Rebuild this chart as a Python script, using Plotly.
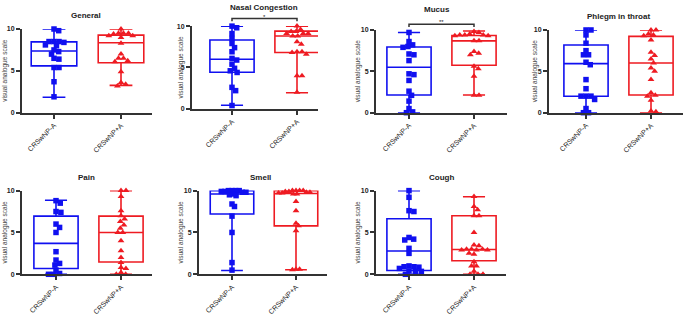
import numpy as np
import plotly.graph_objects as go

W, H = 685, 315

titles = ["General", "Nasal Congestion", "Mucus", "Phlegm in throat", "Pain", "Smell", "Cough"]
groups = ["CRSwNP-A", "CRSwNP+A"]
y_ticks = [0, 5, 10]
y_title = "visual analogue scale"

# individual VAS scores, CRSwNP-A (blue) and CRSwNP+A (red)
general_minus = [10, 9.8, 8.5, 8.5, 8.4, 8.5, 8.0, 8.1, 7.5, 7.3, 7.0, 6.5, 6.4, 5.4, 5.4, 3.7, 1.9]
general_plus = [10, 9.5, 9.4, 9.5, 9.5, 9.2, 9.0, 9.2, 8.3, 7.0, 6.5, 6.5, 6.1, 6.2, 4.9, 3.6, 3.4, 3.2]
nasal_minus = [10, 9.8, 9.1, 8.5, 7.9, 7.4, 6.9, 6.1, 5.9, 5.4, 4.9, 4.6, 4.4, 2.6, 2.2, 0.4]
nasal_plus = [10, 9.6, 9.35, 9.35, 9.1, 9.1, 9.1, 8.8, 8.8, 8.1, 7.8, 6.9, 6.8, 6.9, 6.6, 4.0, 4.0, 2.0]
mucus_minus = [9.7, 8.6, 8.2, 7.9, 8.0, 7.1, 7.0, 6.3, 4.6, 4.7, 3.9, 2.6, 2.1, 1.4, 0.5, 0.1, 0.0]
mucus_plus = [9.8, 9.7, 9.5, 9.4, 9.3, 9.4, 9.3, 9.4, 8.7, 8.7, 7.4, 7.2, 7.0, 5.6, 5.3, 4.4, 2.1, 2.1]
phlegm_minus = [10, 10, 9.4, 8.4, 7.5, 7.0, 7.0, 6.1, 5.8, 4.0, 2.9, 2.0, 2.0, 2.0, 1.6, 0.5, 0, 0]
phlegm_plus = [10, 10, 9.5, 9.4, 9.3, 8.8, 7.3, 6.9, 6.5, 6.0, 5.4, 5.0, 4.0, 2.4, 2.1, 2.0, 1.5, 0.2, 0.1]
pain_minus = [8.8, 8.5, 7.5, 7.4, 6.0, 5.6, 5.0, 2.7, 1.7, 1.3, 1.1, 0.5, 0.1, 0, 0]
pain_plus = [10, 10, 9.3, 7.6, 7.0, 6.6, 6.3, 5.9, 5.5, 5.0, 5.0, 4.0, 2.8, 2.0, 1.4, 0.8, 0.7, 0.2, 0, 0]
smell_minus = [10, 10, 10, 10, 9.9, 9.9, 9.8, 9.8, 9.6, 9.5, 9.4, 8.4, 8.1, 6.95, 5.0, 1.4, 0.5]
smell_plus = [10, 10, 10, 10, 9.9, 9.9, 9.8, 9.8, 9.7, 9.7, 9.6, 9.6, 8.7, 7.6, 6.1, 5.8, 5.2, 0.6, 0.6, 0.55]
cough_minus = [10, 9.2, 7.6, 7.5, 4.4, 4.2, 4.1, 3.1, 2.5, 1.0, 0.9, 0.9, 0.85, 0.7, 0.4, 0.35, 0.35, 0.0]
cough_plus = [9.3, 8.1, 7.7, 7.0, 7.0, 5.0, 3.5, 3.4, 3.0, 2.9, 3.0, 2.9, 3.0, 2.9, 2.5, 2.4, 1.5, 1.0, 1.0, 0.35, 0, 0, 0]

values_minus = [general_minus, nasal_minus, mucus_minus, phlegm_minus, pain_minus, smell_minus, cough_minus]
values_plus = [general_plus, nasal_plus, mucus_plus, phlegm_plus, pain_plus, smell_plus, cough_plus]

# box statistics (min to max whiskers)
box_min_minus = [1.85, 0.43, 0.0, 0.0, 0.0, 0.46, 0.0]
box_q1_minus = [5.6, 4.42, 2.13, 1.98, 0.7, 7.2, 0.46]
box_med_minus = [7.38, 6.0, 5.5, 5.93, 3.7, 9.6, 2.78]
box_q3_minus = [8.46, 8.33, 7.95, 8.18, 6.95, 10.0, 6.64]
box_max_minus = [10, 10, 9.7, 10, 8.84, 10, 10]
box_min_plus = [3.27, 1.94, 2.13, 0, 0, 0.54, 0]
box_q1_plus = [5.96, 6.82, 5.74, 2.13, 1.47, 5.79, 1.62]
box_med_plus = [8.35, 8.8, 8.68, 6.0, 5.0, 9.65, 2.97]
box_q3_plus = [9.27, 9.4, 9.34, 9.22, 6.95, 10.0, 7.0]
box_max_plus = [10, 10, 9.88, 10, 10, 10, 9.27]

# significance brackets: (panel index, label)
sig_panels = [1, 2]
sig_labels = ["*", "**"]

# ---- layout (pixels): top(10), bottom(0), axis left, centre1, centre2, axis right
panel_px = [
    (26, 113, 22, 54, 121, 152),
    (23, 109, 192, 232, 297, 318),
    (27, 113, 376, 409, 474, 507),
    (27, 113, 549, 586, 651, 683),
    (194, 281, 22, 56, 121, 152),
    (194, 281, 199, 232, 296, 327),
    (194, 281, 376, 409, 474, 506),
]
swarm_d = [5.0, 5.0, 5.0, 5.0, 5.0, 3.6, 5.0]
title_px = [(86, 12), (264, 4), (437, 6), (618, 13), (86, 180), (260, 180), (441, 180)]
ytitle_px = [5, 181, 358, 535, 5, 181, 358]
sig_y_px = [15, 21]

BLUE = "#1010f0"
RED = "#ee1b22"
AX = "#333333"
FONT = "Liberation Sans, Arial, sans-serif"


def px_x(p):
    return p / W


def px_y(p):
    return 1 - p / H


def beeswarm(vals, sy, d=5.0):
    """Pixel x offsets so markers of diameter d do not overlap."""
    order = np.argsort(vals)[::-1]
    placed = []
    offs = np.zeros(len(vals))
    for idx in order:
        y = vals[idx] * sy
        cands = [0.0]
        for (px, py) in placed:
            dy = abs(py - y)
            if dy < d:
                dx = np.sqrt(d * d - dy * dy)
                cands += [px + dx, px - dx]
        cands = sorted(cands, key=lambda c: (abs(c), -c))
        for c in cands:
            ok = all((c - px) ** 2 + (y - py) ** 2 >= d * d - 1e-6 for (px, py) in placed)
            if ok:
                offs[idx] = c
                placed.append((c, y))
                break
    return offs


fig = go.Figure()
layout = dict(
    width=W, height=H, autosize=False,
    margin=dict(l=0, r=0, t=0, b=0),
    paper_bgcolor="white", plot_bgcolor="white",
    showlegend=False, font=dict(family=FONT, color="#222"),
    boxmode="overlay",
)
annotations = []
shapes = []

for i in range(7):
    top, bot, left, c1, c2, right = panel_px[i]
    unit = c2 - c1
    sy = (bot - top) / 10.0
    sfx = "" if i == 0 else str(i + 1)
    xa, ya = "x" + sfx, "y" + sfx

    layout["xaxis" + sfx] = dict(
        domain=[px_x(left), px_x(right)], range=[(left - c1) / unit, (right - c1) / unit],
        anchor=ya, showline=True, linewidth=2, linecolor=AX, showgrid=False, zeroline=False,
        tickmode="array", tickvals=[0, 1], ticktext=groups, tickangle=-45,
        ticks="outside", ticklen=4, tickwidth=1.5, tickcolor=AX,
        tickfont=dict(size=7, color="#222", family=FONT),
    )
    layout["yaxis" + sfx] = dict(
        domain=[px_y(bot), px_y(top)], range=[0, 10], anchor=xa,
        showline=True, linewidth=2, linecolor=AX, showgrid=False, zeroline=False,
        tickmode="array", tickvals=y_ticks, ticks="outside", ticklen=4, tickwidth=1.5,
        tickcolor=AX, tickfont=dict(size=7, color="#222", family=FONT, weight="bold"),
    )

    stats = [
        (box_min_minus[i], box_q1_minus[i], box_med_minus[i], box_q3_minus[i], box_max_minus[i], BLUE),
        (box_min_plus[i], box_q1_plus[i], box_med_plus[i], box_q3_plus[i], box_max_plus[i], RED),
    ]
    for g, (mn, q1, md, q3, mx, col) in enumerate(stats):
        fig.add_trace(go.Box(
            x=[g], q1=[q1], median=[md], q3=[q3], lowerfence=[mn], upperfence=[mx],
            width=0.68, whiskerwidth=0.5, line=dict(color=col, width=1.6),
            fillcolor="rgba(0,0,0,0)", boxpoints=False, xaxis=xa, yaxis=ya,
            hoverinfo="skip",
        ))

    for g, (vals, col, sym) in enumerate([(values_minus[i], BLUE, "square"),
                                          (values_plus[i], RED, "triangle-up")]):
        v = np.array(vals, dtype=float)
        offs = beeswarm(v, sy, swarm_d[i]) / unit
        fig.add_trace(go.Scatter(
            x=g + offs, y=v, mode="markers", cliponaxis=False,
            marker=dict(symbol=sym, color=col, size=5.5 if sym == "square" else 6, line=dict(width=0)),
            xaxis=xa, yaxis=ya,
        ))

    tx, ty = title_px[i]
    annotations.append(dict(text="<b>" + titles[i] + "</b>", x=px_x(tx), y=px_y(ty),
                            xref="paper", yref="paper", showarrow=False,
                            font=dict(size=8, color="#222", family=FONT),
                            xanchor="center", yanchor="middle", borderpad=0))
    annotations.append(dict(text=y_title, x=px_x(ytitle_px[i]), y=px_y((top + bot) / 2),
                            xref="paper", yref="paper", showarrow=False, textangle=-90,
                            font=dict(size=6.5, color="#444", family=FONT),
                            xanchor="center", yanchor="middle"))

for k, pi in enumerate(sig_panels):
    top, bot, left, c1, c2, right = panel_px[pi]
    yb = sig_y_px[k]
    path = "M {} {} L {} {} L {} {} L {} {}".format(
        px_x(c1), px_y(yb + 3), px_x(c1), px_y(yb), px_x(c2), px_y(yb), px_x(c2), px_y(yb + 3))
    shapes.append(dict(type="path", path=path, xref="paper", yref="paper",
                       line=dict(color=AX, width=1.5)))
    annotations.append(dict(text=sig_labels[k], x=px_x((c1 + c2) / 2), y=px_y(yb - 6),
                            xref="paper", yref="paper", showarrow=False,
                            font=dict(size=6, color="#222", family=FONT),
                            xanchor="center", yanchor="top", borderpad=0))

layout["annotations"] = annotations
layout["shapes"] = shapes
fig.update_layout(**layout)
fig.write_html("out.html", config={"displayModeBar": False},
               post_script="document.body.style.margin='0';document.body.style.overflow='hidden';")
